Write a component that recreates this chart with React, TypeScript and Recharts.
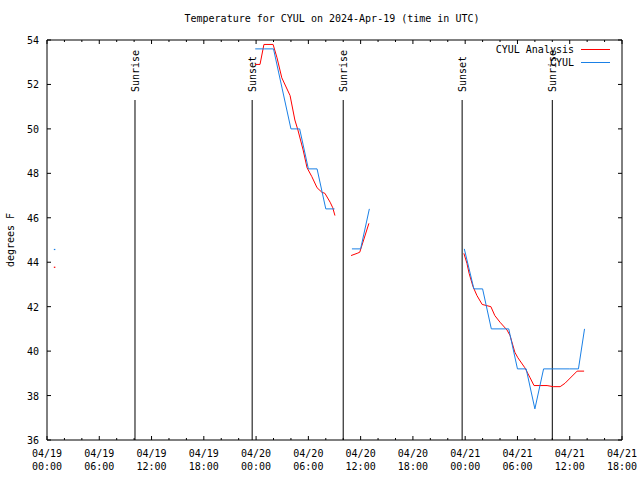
import { ComposedChart, Line, XAxis, YAxis, ReferenceLine } from 'recharts';

const FONT = '"DejaVu Sans Mono", monospace';
const BLUE = '#1a80e6';
const RED = '#ff0000';

// x values are hours since 2024-04-19 00:00 UTC, null temps break the line
const obsHours = [23.9, 25, 26, 27, 28, 29, 30, 31, 32, 33, 34, 35, 36, 37, 42, 47.9, 49, 50, 51, 52, 53, 54, 55, 56, 57, 58, 59, 60, 61, 61.7];
const obsTemps = [53.6, 53.6, 53.6, 51.8, 50.0, 50.0, 48.2, 48.2, 46.4, 46.4, null, 44.6, 44.6, 46.4, null, 44.6, 42.8, 42.8, 41.0, 41.0, 41.0, 39.2, 39.2, 37.4, 39.2, 39.2, 39.2, 39.2, 39.2, 41.0];

const anaHours = [23.9, 24.45, 24.9, 25.95, 26.4, 26.95, 27.9, 28.45, 28.8, 29.4, 29.85, 30.4, 31.0, 31.55, 31.9, 32.5, 32.8, 33.05, 34, 34.9, 35.6, 35.9, 36.95, 42, 47.85, 48.2, 48.45, 48.9, 49.35, 49.95, 50.95, 51.4, 52.0, 52.8, 53.15, 53.7, 54.05, 54.85, 55.45, 55.9, 57.4, 58.1, 58.9, 59.45, 60.85, 61.65];
const anaTemps = [52.9, 52.9, 53.8, 53.8, 53.2, 52.3, 51.5, 50.4, 49.95, 49.05, 48.25, 47.85, 47.35, 47.15, 47.1, 46.7, 46.45, 46.1, null, 44.3, 44.4, 44.45, 45.75, null, 44.4, 43.95, 43.5, 42.9, 42.5, 42.1, 42.0, 41.6, 41.3, 40.95, 40.7, 39.95, 39.7, 39.25, 38.8, 38.45, 38.45, 38.4, 38.4, 38.55, 39.1, 39.1];

// lone readings near the start of the period
const obsLoneHours = [0.9];
const obsLoneTemps = [44.6];
const anaLoneHours = [0.9];
const anaLoneTemps = [43.8];

const sunHours = [10.1, 23.55, 34.0, 47.65, 58.0];
const sunNames = ['Sunrise', 'Sunset', 'Sunrise', 'Sunset', 'Sunrise'];

const xTicks = [0, 2, 4, 6, 8, 10, 12, 14, 16, 18, 20, 22, 24, 26, 28, 30, 32, 34, 36, 38, 40, 42, 44, 46, 48, 50, 52, 54, 56, 58, 60, 62, 64, 66];
const dayLabels = ['04/19', '04/19', '04/19', '04/19', '04/20', '04/20', '04/20', '04/20', '04/21', '04/21', '04/21', '04/21'];
const timeLabels = ['00:00', '06:00', '12:00', '18:00', '00:00', '06:00', '12:00', '18:00', '00:00', '06:00', '12:00', '18:00'];
const yTicks = [36, 38, 40, 42, 44, 46, 48, 50, 52, 54];

const toRows = (hours: number[], temps: (number | null)[]) => hours.map((h, i) => ({ h, v: temps[i] }));

const obsData = toRows(obsHours, obsTemps);
const anaData = toRows(anaHours, anaTemps);
const obsLone = toRows(obsLoneHours, obsLoneTemps);
const anaLone = toRows(anaLoneHours, anaLoneTemps);

const BottomTick = (props: any) => {
  const { x, y, payload } = props;
  const h = payload.value;
  const major = h % 6 === 0;
  return (
    <g>
      <line x1={x} x2={x} y1={y} y2={y - (major ? 4 : 2)} stroke="#000" />
      {major && (
        <text x={x} y={y} textAnchor="middle" fontFamily={FONT} fontSize={10} fill="#000">
          <tspan x={x} dy={17}>{dayLabels[h / 6]}</tspan>
          <tspan x={x} dy={13}>{timeLabels[h / 6]}</tspan>
        </text>
      )}
    </g>
  );
};

const TopTick = (props: any) => {
  const { x, y, payload } = props;
  const major = payload.value % 6 === 0;
  return <line x1={x} x2={x} y1={y} y2={y + (major ? 4 : 2)} stroke="#000" />;
};

const LeftTick = (props: any) => {
  const { x, y, payload } = props;
  return (
    <g>
      <line x1={x} x2={x + 4} y1={y} y2={y} stroke="#000" />
      <text x={x - 8} y={y} dy={4} textAnchor="end" fontFamily={FONT} fontSize={10} fill="#000">
        {payload.value}
      </text>
    </g>
  );
};

const RightTick = (props: any) => {
  const { x, y } = props;
  return <line x1={x} x2={x - 4} y1={y} y2={y} stroke="#000" />;
};

const SunLabel = (name: string) => (props: any) => {
  const vb = props.viewBox || {};
  const x = vb.x ?? vb.x1;
  const y = (vb.y ?? vb.y1) - 8;
  return (
    <text
      x={x}
      y={y}
      dy={4}
      transform={`rotate(-90, ${x}, ${y})`}
      textAnchor="start"
      fontFamily={FONT}
      fontSize={10}
      fill="#000"
    >
      {name}
    </text>
  );
};

const Pixel = (color: string) => (props: any) => (
  <rect key={`${color}-${props.index}`} x={props.cx - 1} y={props.cy} width={1.5} height={1.2} fill={color} />
);

const App = () => {
  return (
    <div style={{ position: 'absolute', left: 0, top: 0, width: 640, height: 480, background: '#fff' }}>
      <div
        style={{
          position: 'absolute',
          left: 0,
          top: 13,
          width: 664,
          textAlign: 'center',
          fontFamily: FONT,
          fontSize: 10,
          whiteSpace: 'pre',
        }}
      >
        Temperature for CYUL on 2024-Apr-19 (time in UTC)
      </div>
      <div
        style={{
          position: 'absolute',
          left: 10,
          top: 240,
          transform: 'translate(-50%, -50%) rotate(-90deg)',
          fontFamily: FONT,
          fontSize: 10,
          whiteSpace: 'pre',
        }}
      >
        degrees F
      </div>
      <ComposedChart width={640} height={480} margin={{ top: 39, right: 17, bottom: 10, left: 7 }}>
        <XAxis
          xAxisId="b"
          dataKey="h"
          type="number"
          domain={[0, 66]}
          ticks={xTicks}
          interval={0}
          height={30}
          tickSize={0}
          tickMargin={0}
          tickLine={false}
          tick={<BottomTick />}
          axisLine={{ stroke: '#000' }}
          allowDataOverflow
        />
        <XAxis
          xAxisId="t"
          dataKey="h"
          type="number"
          orientation="top"
          domain={[0, 66]}
          ticks={xTicks}
          interval={0}
          height={1}
          tickSize={0}
          tickMargin={0}
          tickLine={false}
          tick={<TopTick />}
          axisLine={{ stroke: '#000' }}
          allowDataOverflow
        />
        <YAxis
          yAxisId="l"
          dataKey="v"
          type="number"
          domain={[36, 54]}
          ticks={yTicks}
          interval={0}
          width={40}
          tickSize={0}
          tickMargin={0}
          tickLine={false}
          tick={<LeftTick />}
          axisLine={{ stroke: '#000' }}
          allowDataOverflow
        />
        <YAxis
          yAxisId="r"
          orientation="right"
          type="number"
          domain={[36, 54]}
          ticks={yTicks}
          interval={0}
          width={1}
          tickSize={0}
          tickMargin={0}
          tickLine={false}
          tick={<RightTick />}
          axisLine={{ stroke: '#000' }}
          allowDataOverflow
        />
        {sunHours.map((h, i) => (
          <ReferenceLine
            key={`sun-${i}`}
            xAxisId="b"
            yAxisId="l"
            segment={[{ x: h, y: 51.3 }, { x: h, y: 36 }]}
            stroke="#000"
            strokeWidth={1}
            label={SunLabel(sunNames[i])}
          />
        ))}
        <Line
          xAxisId="b"
          yAxisId="l"
          data={anaData}
          dataKey="v"
          type="linear"
          stroke={RED}
          strokeWidth={1}
          dot={false}
          activeDot={false}
          connectNulls={false}
          isAnimationActive={false}
        />
        <Line
          xAxisId="b"
          yAxisId="l"
          data={obsData}
          dataKey="v"
          type="linear"
          stroke={BLUE}
          strokeWidth={1}
          dot={false}
          activeDot={false}
          connectNulls={false}
          isAnimationActive={false}
        />
        <Line
          xAxisId="b"
          yAxisId="l"
          data={anaLone}
          dataKey="v"
          stroke="none"
          dot={Pixel(RED)}
          activeDot={false}
          isAnimationActive={false}
        />
        <Line
          xAxisId="b"
          yAxisId="l"
          data={obsLone}
          dataKey="v"
          stroke="none"
          dot={Pixel(BLUE)}
          activeDot={false}
          isAnimationActive={false}
        />
      </ComposedChart>
      <svg style={{ position: 'absolute', left: 0, top: 0 }} width={640} height={80}>
        <text x={574} y={53} textAnchor="end" fontFamily={FONT} fontSize={10} fill="#000">
          CYUL Analysis
        </text>
        <line x1={581} x2={610} y1={49.5} y2={49.5} stroke={RED} />
        <text x={574} y={66} textAnchor="end" fontFamily={FONT} fontSize={10} fill="#000">
          CYUL
        </text>
        <line x1={581} x2={610} y1={62.5} y2={62.5} stroke={BLUE} />
      </svg>
    </div>
  );
};

export default App;
